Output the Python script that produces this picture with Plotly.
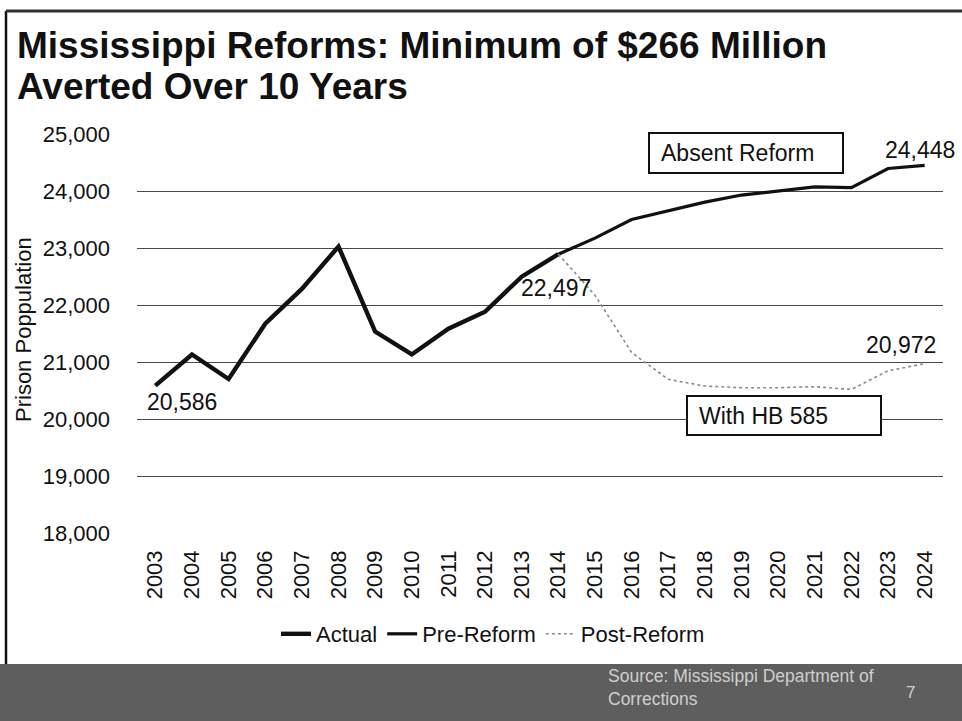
import plotly.graph_objects as go

# Prison population, Mississippi (actual and projected)
years = ["2003", "2004", "2005", "2006", "2007", "2008", "2009", "2010",
         "2011", "2012", "2013", "2014", "2015", "2016", "2017", "2018",
         "2019", "2020", "2021", "2022", "2023", "2024"]

actual_years = years[:12]
actual = [20586, 21132, 20702, 21672, 22282, 23026, 21533, 21132,
          21585, 21882, 22497, 22892]

proj_years = years[11:]
pre_reform = [22892, 23173, 23499, 23646, 23805, 23929, 24000, 24071,
              24058, 24395, 24448]
post_reform = [22892, 22172, 21168, 20696, 20578, 20549, 20549, 20566,
               20519, 20845, 20972]

y_ticks = [18000, 19000, 20000, 21000, 22000, 23000, 24000, 25000]

FONT = "Liberation Sans, Arial, sans-serif"
INK = "#111111"

# Canvas and plot-area geometry (pixels)
W, H = 962, 721
ML, MR, MT, MB = 137, 19, 134, 188
PW, PH = W - ML - MR, H - MT - MB


def px(x):
    return (x - ML) / PW


def py(y):
    return (H - MB - y) / PH


def cat(label):
    # category axes take the position index
    return years.index(label)


fig = go.Figure()

fig.add_trace(go.Scatter(
    x=actual_years, y=actual, name="Actual", mode="lines",
    line=dict(color=INK, width=4.4)))
fig.add_trace(go.Scatter(
    x=proj_years, y=pre_reform, name="Pre-Reform", mode="lines",
    line=dict(color=INK, width=3.2)))
fig.add_trace(go.Scatter(
    x=proj_years, y=post_reform, name="Post-Reform", mode="lines",
    line=dict(color="#8a8a8a", width=1.6, dash="dot")))

shapes = [
    # dark footer band
    dict(type="rect", xref="paper", yref="paper",
         x0=px(0), x1=px(W), y0=py(H), y1=py(664),
         fillcolor="#5e5e5e", line=dict(width=0), layer="below"),
    # slide frame
    dict(type="line", xref="paper", yref="paper",
         x0=px(6), x1=px(6), y0=py(11), y1=py(664),
         line=dict(color=INK, width=2.5)),
    dict(type="line", xref="paper", yref="paper",
         x0=px(6), x1=px(W), y0=py(11), y1=py(11),
         line=dict(color="#333333", width=3)),
    # callout boxes
    dict(type="rect", xref="paper", yref="paper",
         x0=px(649), x1=px(843), y0=py(173), y1=py(133),
         fillcolor="white", line=dict(color=INK, width=2)),
    dict(type="rect", xref="paper", yref="paper",
         x0=px(687), x1=px(881), y0=py(435), y1=py(396),
         fillcolor="white", line=dict(color=INK, width=2)),
]

label_font = dict(size=23, color=INK, family=FONT)

annotations = [
    # title
    dict(text="<b>Mississippi Reforms: Minimum of $266 Million</b>",
         xref="paper", yref="paper", x=px(15), y=py(45),
         xanchor="left", yanchor="middle", showarrow=False,
         font=dict(size=37, color=INK, family=FONT)),
    dict(text="<b>Averted Over 10 Years</b>",
         xref="paper", yref="paper", x=px(15), y=py(86),
         xanchor="left", yanchor="middle", showarrow=False,
         font=dict(size=37, color=INK, family=FONT)),
    # y-axis title
    dict(text="Prison Poppulation", textangle=-90,
         xref="paper", yref="paper", x=px(23), y=py(330),
         xanchor="center", yanchor="middle", showarrow=False,
         font=dict(size=22, color=INK, family=FONT)),
    # callout texts
    dict(text="Absent Reform", xref="paper", yref="paper",
         x=px(659), y=py(153), xanchor="left", yanchor="middle",
         showarrow=False, font=dict(size=23, color=INK, family=FONT)),
    dict(text="With HB 585", xref="paper", yref="paper",
         x=px(697), y=py(416), xanchor="left", yanchor="middle",
         showarrow=False, font=dict(size=23, color=INK, family=FONT)),
    # value labels
    dict(text=f"{actual[0]:,}", x=cat(actual_years[0]), y=actual[0],
         xref="x", yref="y", xshift=27, yshift=-16, showarrow=False,
         font=label_font),
    dict(text=f"{actual[10]:,}", x=cat(actual_years[10]), y=actual[10],
         xref="x", yref="y", xshift=34, yshift=-11, showarrow=False,
         font=label_font),
    dict(text=f"{pre_reform[-1]:,}", x=cat(proj_years[-1]), y=pre_reform[-1],
         xref="x", yref="y", xanchor="right", xshift=32, yshift=15,
         showarrow=False, font=label_font),
    dict(text=f"{post_reform[-1]:,}", x=cat(proj_years[-1]), y=post_reform[-1],
         xref="x", yref="y", xshift=-24, yshift=19, showarrow=False,
         font=label_font),
    # footer source note
    dict(text="Source: Mississippi Department of<br>Corrections",
         xref="paper", yref="paper", x=px(606), y=py(687),
         xanchor="left", yanchor="middle", align="left", showarrow=False,
         font=dict(size=17.5, color="#cfcfcf", family=FONT)),
    dict(text="7", xref="paper", yref="paper", x=px(910), y=py(692),
         xanchor="center", yanchor="middle", showarrow=False,
         font=dict(size=17, color="#cfcfcf", family=FONT)),
]

fig.update_layout(
    width=W, height=H,
    margin=dict(l=ML, r=MR, t=MT, b=MB, pad=0),
    paper_bgcolor="white", plot_bgcolor="white",
    font=dict(family=FONT, color=INK),
    showlegend=True,
    legend=dict(orientation="h", x=px(493), y=py(634),
                xanchor="center", yanchor="middle",
                font=dict(size=22, color=INK, family=FONT),
                itemwidth=30, tracegroupgap=0, bgcolor="rgba(0,0,0,0)"),
    shapes=shapes,
    annotations=annotations,
)

fig.update_xaxes(
    type="category", categoryorder="array", categoryarray=years,
    range=[-0.5, len(years) - 0.5],
    tickangle=-90, ticks="", showgrid=False, showline=False, zeroline=False,
    ticklabelstandoff=12,
    tickfont=dict(size=22, color=INK, family=FONT),
)
fig.update_yaxes(
    range=[18000, 25000], tickvals=y_ticks,
    tickformat=",d", ticks="", showline=False, zeroline=False,
    showgrid=True, gridcolor="#4a4a4a", gridwidth=1,
    ticklabelstandoff=26,
    tickfont=dict(size=22, color=INK, family=FONT),
)

fig.write_html("out.html")
